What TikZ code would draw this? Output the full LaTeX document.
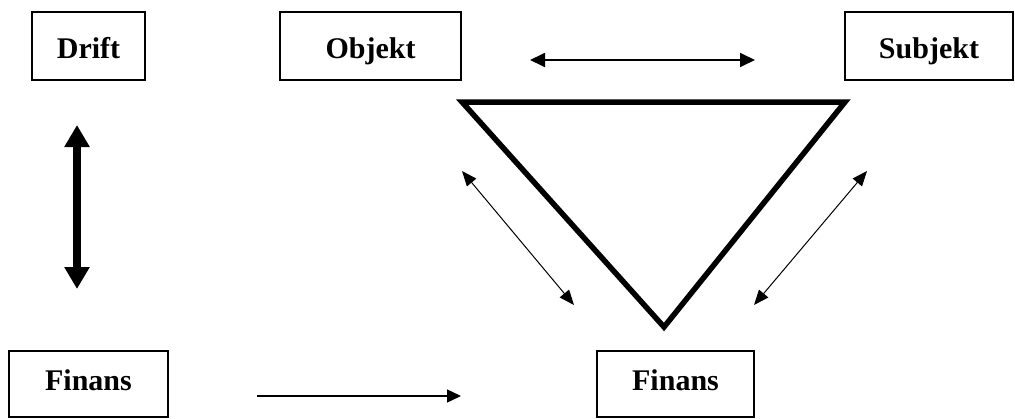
\documentclass[tikz,border=0pt]{standalone}
\usepackage{fontspec}
\setmainfont{Liberation Serif}
\usetikzlibrary{arrows.meta}
\begin{document}
\begin{tikzpicture}[x=1pt,y=-1pt,
  box/.style={draw, line width=1.4pt, inner sep=0pt,
    font=\fontsize{30}{36}\selectfont\bfseries},
  topbox/.style={box, minimum height=68pt, text height=24pt, text depth=0pt},
  botbox/.style={box, minimum height=66pt, text height=20pt, text depth=8pt},
  thinlink/.style={line width=1pt,
    {Triangle[length=15pt,width=12pt]}-{Triangle[length=15pt,width=12pt]}},
  toplink/.style={line width=1.8pt,
    {Triangle[length=15pt,width=14pt]}-{Triangle[length=15pt,width=14pt]}},
  thicklink/.style={line width=7.5pt,
    {Triangle[length=22pt,width=24pt]}-{Triangle[length=22pt,width=24pt]}},
  flowlink/.style={line width=1.5pt, -{Triangle[length=14pt,width=13pt]}},
  frame/.style={line width=5.5pt, line join=miter}
]
\useasboundingbox (0,0) rectangle (1015,418);

% boxes
\node[topbox, minimum width=113pt] (drift)   at (88.5,46)  {Drift};
\node[topbox, minimum width=181pt] (objekt)  at (370.5,46) {Objekt};
\node[topbox, minimum width=168pt] (subjekt) at (929,46)   {Subjekt};
\node[botbox, minimum width=159pt] (finansL) at (88.5,384) {Finans};
\node[botbox, minimum width=157pt] (finansR) at (675.5,384) {Finans};

% triangle
\coordinate (tl) at (462,102);
\coordinate (tr) at (845,102);
\coordinate (tb) at (664,327);
\draw[frame] (tl) -- (tr) -- (tb) -- cycle;

% arrow end points
\coordinate (ha) at (530,60);  \coordinate (hb) at (755,60);
\coordinate (la) at (462,171); \coordinate (lb) at (574,305);
\coordinate (ra) at (867,171); \coordinate (rb) at (754,305);
\coordinate (va) at (77,125);  \coordinate (vb) at (77,289);
\coordinate (fa) at (257,396); \coordinate (fb) at (461,396);

\draw[toplink]   (ha) -- (hb);
\draw[thinlink]  (la) -- (lb);
\draw[thinlink]  (ra) -- (rb);
\draw[thicklink] (va) -- (vb);
\draw[flowlink]  (fa) -- (fb);
\end{tikzpicture}
\end{document}
